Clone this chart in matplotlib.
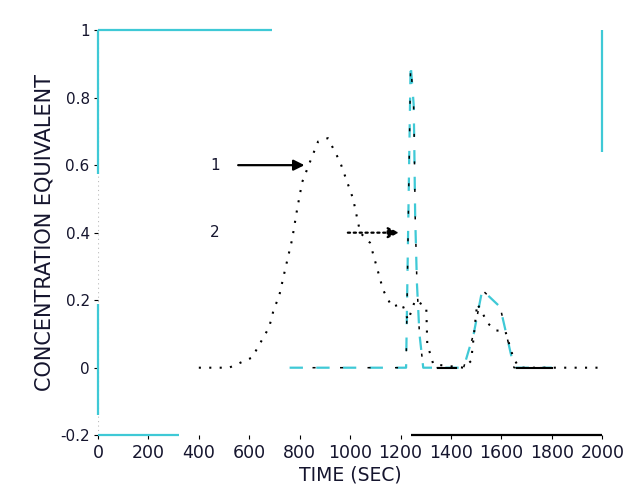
import matplotlib
matplotlib.use("Agg")
import matplotlib.pyplot as plt

CYAN = "#3fc9d6"
INK = "#15152e"

# curve 1 (dotted, black): time [s], concentration equivalent
t1 = [400, 520, 611, 679, 698, 718, 742, 770, 790, 810, 841, 873, 912, 960,
      1012, 1040, 1079, 1131, 1166, 1206, 1230, 1258, 1302, 1306, 1330, 1450,
      1480, 1504, 1548, 1580, 1615, 1647, 1670, 2000]
c1 = [0, 0, 0.03, 0.12, 0.175, 0.21, 0.29, 0.38, 0.47, 0.55, 0.61, 0.67, 0.68,
      0.61, 0.5, 0.4, 0.37, 0.23, 0.18, 0.19, 0.14, 0.2, 0.18, 0.07, 0.01, 0,
      0.02, 0.19, 0.13, 0.11, 0.11, 0.03, 0, 0]

# curve 2 (dashed, cyan)
t2 = [760, 1100, 1222, 1240, 1252, 1254, 1258, 1265, 1275, 1290, 1450, 1490,
      1524, 1595, 1650, 1800]
c2 = [0, 0, 0, 0.9, 0.78, 0.69, 0.45, 0.25, 0.1, 0, 0, 0.1, 0.23, 0.18, 0, 0]

# solid pieces of the zero baseline
base_t = [[1350, 1420], [1660, 1800]]

# visible pieces of the frame: (x list, y list, colour)
frame = [
    ([0, 600], [1, 1], CYAN),
    ([600, 690], [1, 1], CYAN),
    ([0, 0], [1, 0.575], CYAN),
    ([0, 0], [0.19, -0.14], CYAN),
    ([0, 320], [-0.2, -0.2], CYAN),
    ([1240, 1320], [-0.2, -0.2], "black"),
    ([1320, 2000], [-0.2, -0.2], "black"),
    ([2000, 2000], [1, 0.64], CYAN),
]

xticks = list(range(0, 2001, 200))
yticks = [-0.2, 0, 0.2, 0.4, 0.6, 0.8, 1]
ytick_labels = ["-0.2", "0", "0.2", "0.4", "0.6", "0.8", "1"]

# labelled arrows: label, text x, y, arrow start x, arrow end x
arrows = [("1", 464, 0.6, 545, 830, "-", "black"),
          ("2", 464, 0.4, 980, 1205, ":", "#555555")]

fig = plt.figure(figsize=(6.28, 4.94), dpi=100)
ax = fig.add_axes([0.156, 0.119, 0.803, 0.820])

for s in ax.spines.values():
    s.set_visible(False)
ax.axvline(0, color="#bbbbbb", lw=0.8, ls=(0, (1, 3)))

for xs, ys, col in frame:
    ax.plot(xs, ys, color=col, lw=1.6, solid_capstyle="butt", clip_on=False)

ax.plot(t2, c2, color=CYAN, lw=1.6, ls=(0, (6, 6)))
ax.plot(t2, c2, color="black", lw=1.1, ls=(3, (2, 16)))
ax.plot(t1, c1, color="black", lw=1.5, ls=(0, (1, 4)))
for seg in base_t:
    ax.plot(seg, [0, 0], color="black", lw=1.5)

for lab, tx, ty, x0, x1, ls, col in arrows:
    ax.text(tx, ty, lab, fontsize=11, color=INK, ha="center", va="center")
    ax.annotate("", xy=(x1, ty), xytext=(x0, ty),
                arrowprops=dict(arrowstyle="-|>", color="black", lw=1.6,
                                linestyle=ls, mutation_scale=16))

ax.set_xlim(0, 2000)
ax.set_ylim(-0.2, 1)
ax.set_xticks(xticks)
ax.set_xticklabels([str(v) for v in xticks], fontsize=12.5, color=INK)
ax.set_yticks(yticks)
ax.set_yticklabels(ytick_labels, fontsize=11, color=INK)
ax.tick_params(direction="out", length=3, width=0.8, color="black", pad=3)

ax.set_xlabel("TIME (SEC)", fontsize=13.5, color=INK, labelpad=3)
ax.set_ylabel("CONCENTRATION EQUIVALENT", fontsize=15, color=INK, labelpad=4)

fig.savefig("out.png", dpi=100)
